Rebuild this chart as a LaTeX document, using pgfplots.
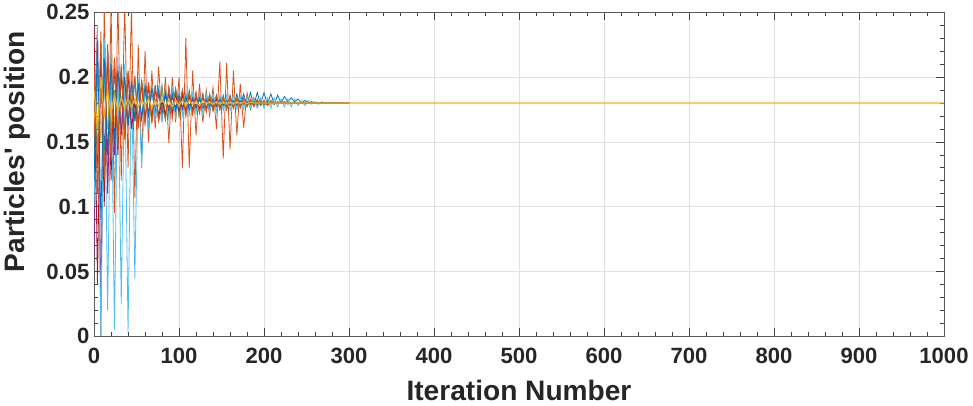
\documentclass[border=0pt]{standalone}
\usepackage{fontspec}
\defaultfontfeatures[\rmfamily]{}
\setmainfont{Liberation Sans}
\usepackage{pgfplots}
\usepackage{pgfplotstable}
\pgfplotsset{compat=1.18}
\definecolor{mB}{rgb}{0,0.447,0.741}
\definecolor{mO}{rgb}{0.85,0.325,0.098}
\definecolor{mY}{rgb}{0.929,0.694,0.125}
\definecolor{mP}{rgb}{0.494,0.184,0.556}
\definecolor{mG}{rgb}{0.466,0.674,0.188}
\definecolor{mL}{rgb}{0.301,0.745,0.933}
\definecolor{mR}{rgb}{0.635,0.078,0.184}
\pgfplotstableread{
x b1 o1 y1 p g lb dr b2 o2 y2
0 .205 .150 .165 .060 .230 .100 .240 .120 .210 .190
4 .130 .240 .205 .235 .140 .240 .040 .228 .110 .160
8 .225 .000 .150 .030 .225 .000 .215 .090 .235 .200
12 .140 .260 .200 .220 .125 .230 .100 .215 .120 .170
16 .215 .110 .160 .110 .220 .020 .225 .140 .225 .190
20 .150 .255 .205 .215 .150 .220 .120 .210 .135 .172
24 .210 .095 .162 .140 .190 .005 .215 .150 .215 .186
28 .155 .262 .198 .208 .150 .215 .140 .205 .145 .174
32 .205 .120 .165 .155 .208 .025 .205 .178 .210 .184
36 .160 .258 .195 .200 .158 .210 .152 .200 .152 .176
40 .185 .130 .167 .162 .205 .003 .202 .163 .205 .183
44 .162 .255 .193 .196 .172 .205 .160 .197 .177 .177
48 .199 .107 .168 .166 .200 .045 .180 .166 .201 .183
52 .164 .225 .192 .194 .163 .200 .164 .195 .160 .177
56 .197 .135 .180 .168 .197 .130 .195 .168 .198 .182
60 .165 .220 .191 .190 .178 .196 .167 .193 .162 .178
64 .196 .150 .170 .172 .185 .160 .193 .170 .196 .183
68 .166 .205 .190 .188 .166 .194 .168 .191 .164 .177
72 .194 .160 .171 .174 .178 .166 .191 .181 .194 .182
76 .167 .208 .189 .186 .167 .193 .170 .190 .166 .178
80 .193 .165 .172 .175 .192 .167 .181 .172 .178 .183
84 .168 .200 .188 .185 .168 .192 .171 .188 .167 .178
88 .192 .149 .173 .176 .191 .168 .188 .173 .192 .182
92 .176 .200 .187 .184 .169 .191 .172 .187 .168 .177
96 .191 .165 .174 .177 .190 .169 .187 .174 .191 .182
100 .170 .200 .186 .183 .170 .190 .173 .186 .178 .178
104 .190 .130 .174 .177 .189 .170 .186 .175 .190 .182
108 .171 .230 .186 .183 .180 .189 .174 .185 .170 .178
112 .189 .130 .175 .178 .188 .171 .185 .175 .189 .182
116 .172 .205 .185 .182 .172 .188 .175 .184 .171 .179
120 .188 .155 .175 .178 .187 .172 .184 .176 .188 .181
124 .173 .195 .185 .182 .173 .188 .176 .184 .172 .178
128 .187 .165 .176 .179 .186 .172 .184 .176 .187 .182
132 .174 .190 .184 .181 .174 .187 .176 .183 .173 .179
136 .187 .170 .176 .179 .186 .173 .183 .177 .186 .181
140 .174 .192 .184 .181 .175 .187 .177 .183 .174 .179
144 .186 .160 .177 .179 .185 .173 .183 .177 .186 .181
148 .175 .212 .183 .181 .175 .186 .177 .183 .175 .179
152 .186 .137 .177 .180 .185 .174 .182 .178 .185 .181
156 .175 .211 .183 .180 .176 .186 .178 .182 .175 .179
160 .186 .144 .178 .180 .184 .174 .182 .178 .185 .181
164 .176 .205 .182 .180 .176 .186 .178 .182 .176 .179
168 .187 .155 .178 .180 .184 .175 .182 .178 .184 .181
172 .177 .195 .182 .180 .177 .185 .179 .182 .176 .1795
176 .187 .161 .178 .180 .183 .175 .181 .179 .184 .1805
180 .178 .188 .182 .180 .177 .185 .179 .181 .177 .1795
184 .188 .175 .179 .180 .183 .176 .181 .179 .183 .1805
188 .178 .184 .181 .180 .178 .184 .179 .181 .177 .180
192 .188 .177 .179 .180 .182 .176 .181 .179 .183 .180
196 .179 .183 .181 .180 .178 .184 .180 .181 .178 .180
200 .188 .178 .179 .180 .182 .176 .180 .179 .182 .180
204 .179 .182 .181 .180 .178 .184 .180 .181 .178 .180
208 .187 .179 .180 .180 .182 .176 .180 .180 .182 .180
212 .179 .181 .180 .180 .179 .184 .180 .180 .179 .180
216 .186 .180 .180 .180 .181 .177 .180 .180 .181 .180
220 .180 .180 .180 .180 .180 .183 .180 .180 .180 .180
224 .185 .180 .180 .180 .181 .177 .180 .180 .181 .180
228 .181 .180 .180 .180 .179 .183 .180 .180 .180 .180
232 .184 .180 .180 .180 .180 .177 .180 .180 .180 .180
236 .181 .180 .180 .180 .180 .183 .180 .180 .180 .180
240 .183 .180 .180 .180 .180 .178 .180 .180 .180 .180
244 .180 .180 .180 .180 .180 .182 .180 .180 .180 .180
248 .182 .180 .180 .180 .180 .178 .180 .180 .180 .180
252 .180 .180 .180 .180 .180 .182 .180 .180 .180 .180
256 .181 .180 .180 .180 .180 .179 .180 .180 .180 .180
260 .180 .180 .180 .180 .180 .181 .180 .180 .180 .180
264 .180 .180 .180 .180 .180 .179 .180 .180 .180 .180
268 .180 .180 .180 .180 .180 .181 .180 .180 .180 .180
272 .180 .180 .180 .180 .180 .1795 .180 .180 .180 .180
276 .180 .180 .180 .180 .180 .1805 .180 .180 .180 .180
280 .180 .180 .180 .180 .180 .180 .180 .180 .180 .180
300 .180 .180 .180 .180 .180 .180 .180 .180 .180 .180
1000 .180 .180 .180 .180 .180 .180 .180 .180 .180 .180
}\parts
\begin{document}
\begin{tikzpicture}
\begin{axis}[
  scale only axis,
  width=635pt, height=242pt,
  xmin=0, xmax=1000, ymin=0, ymax=0.25,
  xtick={0,100,...,1000},
  ytick={0,0.05,0.1,0.15,0.2,0.25},
  minor x tick num=4,
  minor y tick num=4,
  major tick length=6pt,
  minor tick length=3pt,
  tick align=inside,
  every tick/.style={black!75, line width=0.4pt},
  axis line style={black!65, line width=0.5pt},
  grid=major,
  major grid style={black!12, line width=0.5pt},
  /pgf/number format/assume math mode=true,
  /pgf/number format/1000 sep={},
  yticklabel style={/pgf/number format/fixed, /pgf/number format/precision=2},
  ticklabel style={font=\bfseries\fontsize{16.5}{18}\selectfont, text=black!85},
  xticklabel style={yshift=-5pt},
  xlabel={Iteration Number},
  ylabel={Particles' position},
  label style={font=\bfseries\fontsize{21}{24}\selectfont, text=black!85},
  xlabel style={at={(axis description cs:0.5,-0.167)}, anchor=center},
  ylabel style={at={(axis description cs:-0.09,0.57)}, anchor=center, rotate=0},
  every axis plot/.append style={line width=0.6pt},
]
\addplot[mB, restrict x to domain=0:300] table[x=x,y=b1] {\parts};
\addplot[mO, restrict x to domain=0:300] table[x=x,y=o1] {\parts};
\addplot[mY, restrict x to domain=0:300] table[x=x,y=y1] {\parts};
\addplot[mP, restrict x to domain=0:300] table[x=x,y=p] {\parts};
\addplot[mG, restrict x to domain=0:300] table[x=x,y=g] {\parts};
\addplot[mL, restrict x to domain=0:300] table[x=x,y=lb] {\parts};
\addplot[mR, restrict x to domain=0:300] table[x=x,y=dr] {\parts};
\addplot[mB, restrict x to domain=0:300] table[x=x,y=b2] {\parts};
\addplot[mO, restrict x to domain=0:300] table[x=x,y=o2] {\parts};
\addplot[mY, line width=0.9pt] table[x=x,y=y2] {\parts};
\end{axis}
\end{tikzpicture}
\end{document}
